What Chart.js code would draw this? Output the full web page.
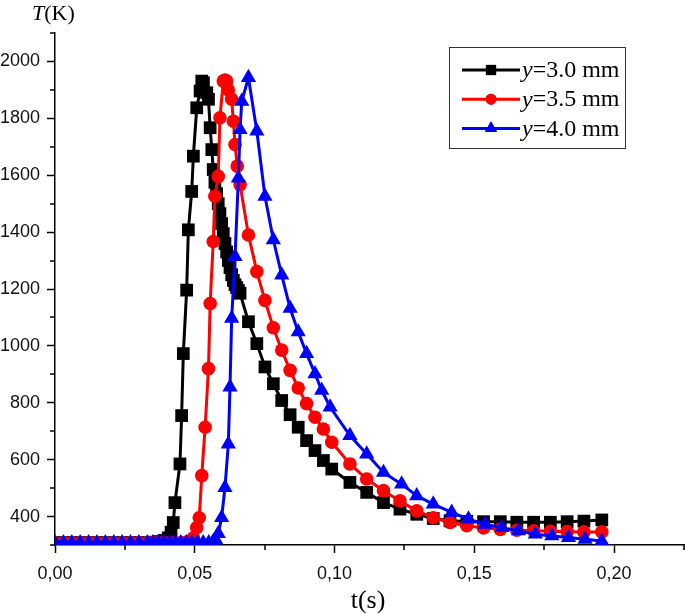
<!DOCTYPE html>
<html>
<head>
<meta charset="utf-8">
<script src="https://cdn.jsdelivr.net/npm/chart.js@4.4.1/dist/chart.umd.min.js"></script>
<style>
  html, body { margin: 0; padding: 0; background: #fff; }
  #wrap { width: 685px; height: 614px; }
</style>
</head>
<body>
<div id="wrap"><canvas id="tempChart" width="685" height="614"></canvas></div>
<script>
// Data (t in s, T in K)
const seriesLabels = ['y=3.0 mm', 'y=3.5 mm', 'y=4.0 mm'];
const seriesColors = ['#000000', '#ff0000', '#0000ff'];
const seriesStyles = ['rect', 'circle', 'triangle'];

const tA = [0, 0.003, 0.006, 0.009, 0.012, 0.015, 0.018, 0.021, 0.024, 0.027, 0.030, 0.033,
    0.035, 0.037, 0.039, 0.0405, 0.0415,
    0.0423, 0.0429, 0.0447, 0.0453, 0.0459, 0.0471, 0.0477, 0.0489, 0.0495, 0.0507, 0.0519, 0.0525, 0.0531, 0.0543, 0.0549, 0.0555, 0.0561, 0.0566,
    0.0572, 0.0578, 0.0584, 0.059, 0.0596, 0.0602, 0.0608, 0.0614, 0.062, 0.0626, 0.0632, 0.0638, 0.0644, 0.065, 0.0656, 0.0662,
    0.0692, 0.0722, 0.0751, 0.0781, 0.0811, 0.0841, 0.087, 0.09, 0.093, 0.096, 0.099,
    0.1055, 0.1115, 0.1175, 0.1234, 0.1294, 0.1353, 0.1413, 0.1473, 0.1533, 0.1593, 0.1652, 0.1712, 0.1772, 0.1832, 0.1892, 0.1956];
const TA = [308, 308, 308, 308, 308, 308, 308, 308, 308, 308, 308, 308,
    310, 312, 316, 325, 345,
    379, 449, 585, 755, 973, 1196, 1408, 1543, 1667, 1837, 1896, 1931, 1925, 1890, 1867, 1767, 1690, 1620,
    1575, 1535, 1500, 1465, 1430, 1395, 1360, 1330, 1300, 1275, 1250, 1230, 1215, 1205, 1195, 1185,
    1085, 1008, 926, 867, 808, 758, 714, 667, 632, 597, 567,
    520, 485, 449, 426, 408, 393, 385, 383, 382, 382, 380, 380, 380, 382, 384, 388];

const tB = [0, 0.003, 0.006, 0.009, 0.012, 0.015, 0.018, 0.021, 0.024, 0.027, 0.030, 0.033,
    0.035, 0.037, 0.039, 0.041, 0.043, 0.045, 0.047, 0.0485, 0.0495,
    0.0507, 0.0516, 0.0525, 0.0537, 0.0549, 0.0555, 0.0566, 0.0572, 0.0584, 0.059, 0.0602, 0.0608, 0.0614, 0.062, 0.0632, 0.0638, 0.0644, 0.0652, 0.0662,
    0.0692, 0.0722, 0.0751, 0.0781, 0.0811, 0.0841, 0.087, 0.09, 0.093, 0.096, 0.099,
    0.1055, 0.1115, 0.1175, 0.1234, 0.1294, 0.1353, 0.1413, 0.1473, 0.1533, 0.1593, 0.1652, 0.1712, 0.1772, 0.1832, 0.1892, 0.1956];
const TB = [308, 308, 308, 308, 308, 308, 308, 308, 308, 308, 308, 308,
    308, 308, 308, 308, 308, 308, 310, 314, 325,
    361, 396, 544, 714, 920, 1149, 1367, 1526, 1596, 1802, 1931, 1935, 1931, 1900, 1867, 1790, 1708, 1632, 1567,
    1390, 1261, 1160, 1064, 985, 914, 852, 797, 749, 708, 661,
    585, 532, 491, 455, 420, 396, 379, 368, 360, 355, 352, 350, 348, 347, 346, 346];

const tC = [0, 0.003, 0.006, 0.009, 0.012, 0.015, 0.018, 0.021, 0.024, 0.027, 0.030, 0.033,
    0.035, 0.037, 0.039, 0.041, 0.043, 0.045, 0.047, 0.049, 0.051, 0.053, 0.055, 0.0565, 0.0575,
    0.0584, 0.0596, 0.0608, 0.062, 0.0626, 0.0632, 0.0644, 0.0656, 0.0662, 0.0668, 0.0692,
    0.0722, 0.0751, 0.0781, 0.0811, 0.0841, 0.087, 0.09, 0.093, 0.0954, 0.0984,
    0.1055, 0.1115, 0.1175, 0.124, 0.1294, 0.1353, 0.1419, 0.1479, 0.1538, 0.1598, 0.1658, 0.1718, 0.1777, 0.1837, 0.1896, 0.1956];
const TC = [308, 308, 308, 308, 308, 308, 308, 308, 308, 308, 308, 308,
    308, 308, 308, 308, 308, 308, 308, 308, 308, 308, 308, 310, 318,
    340, 396, 502, 655, 855, 1097, 1314, 1590, 1760, 1860, 1943,
    1755, 1526, 1373, 1249, 1132, 1049, 973, 902, 844, 785,
    685, 620, 555, 514, 473, 444, 415, 391, 373, 361, 350, 338, 332, 326, 320, 314];

// Axis ranges
const X_MIN = 0, X_MAX = 0.225, X_STEP = 0.025;
const Y_MIN = 300, Y_MAX = 2100, Y_STEP = 100;

const isMajorX = v => Math.round(v / X_STEP) % 2 === 0 && v < X_MAX - 1e-9;
const isMajorY = v => Math.round(v) % 200 === 0;

function toPoints(ts, Ts) {
    return ts.map((t, i) => ({ x: t, y: Ts[i] }));
}

const pointSets = [toPoints(tA, TA), toPoints(tB, TB), toPoints(tC, TC)];
const radii = [9, 6.8, 8.8];

// minor ticks (shorter), axis titles and the boxed legend
const extrasPlugin = {
    id: 'extras',
    afterDraw(chart) {
        const ctx = chart.ctx;
        const xs = chart.scales.x, ys = chart.scales.y;
        ctx.save();
        ctx.strokeStyle = '#000';
        ctx.lineWidth = 1.5;
        xs.ticks.forEach(t => {
            if (isMajorX(t.value)) return;
            const px = Math.round(xs.getPixelForValue(t.value));
            ctx.beginPath();
            ctx.moveTo(px, ys.bottom);
            ctx.lineTo(px, ys.bottom + 5);
            ctx.stroke();
        });
        ys.ticks.forEach(t => {
            if (isMajorY(t.value)) return;
            const py = Math.round(ys.getPixelForValue(t.value));
            ctx.beginPath();
            ctx.moveTo(xs.left - 5, py);
            ctx.lineTo(xs.left, py);
            ctx.stroke();
        });

        // Y title: T(K)
        ctx.fillStyle = '#000';
        ctx.textBaseline = 'alphabetic';
        ctx.textAlign = 'left';
        ctx.font = 'italic 22px "Liberation Serif"';
        ctx.fillText('T', 32, 20);
        let w = ctx.measureText('T').width;
        ctx.font = '22px "Liberation Serif"';
        ctx.fillText('(K)', 32 + w, 20);

        // X title: t(s)
        ctx.textAlign = 'center';
        ctx.font = '26px "Liberation Serif"';
        ctx.fillText('t(s)', 368, 608);

        // legend
        ctx.lineWidth = 1;
        ctx.strokeStyle = '#333';
        ctx.strokeRect(449.5, 47.5, 176, 101);
        seriesLabels.forEach((lab, i) => {
            const y = 70 + i * 29.2;
            ctx.strokeStyle = seriesColors[i];
            ctx.fillStyle = seriesColors[i];
            ctx.lineWidth = 3;
            ctx.beginPath();
            ctx.moveTo(462, y);
            ctx.lineTo(520, y);
            ctx.stroke();
            Chart.helpers.drawPoint(ctx, { pointStyle: seriesStyles[i], radius: radii[i] * 0.8, rotation: 0, borderWidth: 0 }, 491, y);
            ctx.fill();
            ctx.fillStyle = '#000';
            ctx.textAlign = 'left';
            ctx.textBaseline = 'middle';
            ctx.font = 'italic 24px "Liberation Serif"';
            ctx.fillText(lab[0], 522, y + 1);
            const w0 = ctx.measureText(lab[0]).width;
            ctx.font = '24px "Liberation Serif"';
            ctx.fillText(lab.slice(1), 522 + w0, y + 1);
        });
        ctx.restore();
    }
};

const datasets = pointSets.map((pts, i) => ({
    label: seriesLabels[i],
    data: pts,
    borderColor: seriesColors[i],
    backgroundColor: seriesColors[i],
    pointBackgroundColor: seriesColors[i],
    pointBorderColor: seriesColors[i],
    pointBorderWidth: 0,
    pointStyle: seriesStyles[i],
    pointRadius: radii[i],
    borderWidth: 3,
    tension: 0,
    fill: false,
    order: 3 - i
}));

new Chart(document.getElementById('tempChart'), {
    type: 'line',
    data: { datasets },
    options: {
        responsive: false,
        animation: false,
        events: [],
        layout: { autoPadding: false, padding: { top: 33, right: 1, left: 0, bottom: 0 } },
        plugins: { legend: { display: false }, tooltip: { enabled: false } },
        scales: {
            x: {
                type: 'linear',
                min: X_MIN,
                max: X_MAX,
                afterFit: s => { s.height = 69; s.paddingRight = 0; s.paddingLeft = 0; },
                border: { display: true, color: '#000', width: 1.5 },
                grid: {
                    drawOnChartArea: false,
                    drawTicks: true,
                    tickLength: 8,
                    tickWidth: 1.5,
                    tickColor: c => (c.tick && isMajorX(c.tick.value)) ? '#000' : 'rgba(0,0,0,0)'
                },
                ticks: {
                    stepSize: X_STEP,
                    autoSkip: false,
                    maxRotation: 0,
                    padding: 10,
                    color: '#111',
                    font: { family: 'Liberation Sans', size: 18 },
                    callback: v => isMajorX(v) ? v.toFixed(2).replace('.', ',') : ''
                }
            },
            y: {
                min: Y_MIN,
                max: Y_MAX,
                afterFit: s => { s.width = 55; },
                border: { display: true, color: '#000', width: 1.5 },
                grid: {
                    drawOnChartArea: false,
                    drawTicks: true,
                    tickLength: 8,
                    tickWidth: 1.5,
                    tickColor: c => (c.tick && isMajorY(c.tick.value)) ? '#000' : 'rgba(0,0,0,0)'
                },
                ticks: {
                    stepSize: Y_STEP,
                    autoSkip: false,
                    padding: 7,
                    color: '#111',
                    font: { family: 'Liberation Sans', size: 18 },
                    callback: v => (isMajorY(v) && v >= 400 && v <= 2000) ? String(v) : ''
                }
            }
        }
    },
    plugins: [extrasPlugin]
});
</script>
</body>
</html>
